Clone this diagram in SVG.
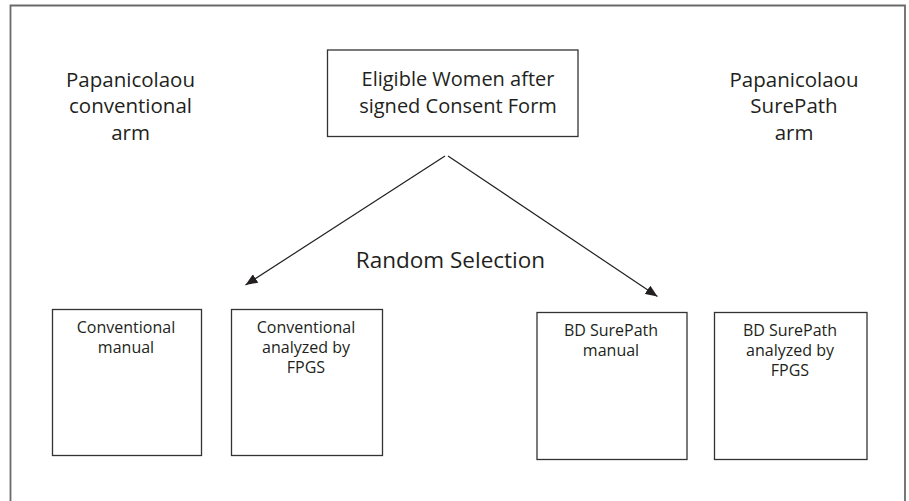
<svg xmlns="http://www.w3.org/2000/svg" width="909" height="501" viewBox="0 0 909 501">
<defs>
<style>
.frame{fill:none;stroke:#6a6a6a;stroke-width:1.8}
.box{fill:#fff;stroke:#333;stroke-width:1.3}
.t{font-family:"Open Sans","Liberation Sans",sans-serif;fill:#231f20;text-anchor:middle}
.big{font-size:20px}
.lbl{font-size:20.5px}
.sm{font-size:16px}
.edge{fill:none;stroke:#231f20;stroke-width:1.2}
</style>
<marker id="ah" viewBox="0 0 12 10" refX="12" refY="5" markerWidth="12" markerHeight="10" markerUnits="userSpaceOnUse" orient="auto">
<path d="M0,0 L12,5 L0,10 z" fill="#231f20"/>
</marker>
</defs>
<rect width="909" height="501" fill="#fff"/>
<path class="frame" d="M10.5,510 V5.5 H905 V510"/>

<g id="label-conventional-arm">
<text class="t lbl" x="130.5" y="86.5">Papanicolaou</text>
<text class="t lbl" x="130.5" y="113">conventional</text>
<text class="t lbl" x="130.5" y="139.5">arm</text>
</g>
<g id="label-surepath-arm">
<text class="t lbl" x="794" y="86.5">Papanicolaou</text>
<text class="t lbl" x="794" y="113">SurePath</text>
<text class="t lbl" x="794" y="139.5">arm</text>
</g>

<g id="eligible">
<rect class="box" x="327.5" y="50" width="250.5" height="86.5"/>
<text class="t big" x="458" y="85.5">Eligible Women after</text>
<text class="t big" x="458" y="112.5">signed Consent Form</text>
</g>

<g id="connectors">
<line class="edge" x1="445" y1="156" x2="245.5" y2="285" marker-end="url(#ah)"/>
<line class="edge" x1="448" y1="156" x2="657.5" y2="296.5" marker-end="url(#ah)"/>
<text class="t" x="450.5" y="268" style="font-size:22.5px">Random Selection</text>
</g>

<g id="conv-manual">
<rect class="box" x="52.5" y="309.5" width="149" height="146"/>
<text class="t sm" x="126" y="333">Conventional</text>
<text class="t sm" x="126" y="353">manual</text>
</g>
<g id="conv-fpgs">
<rect class="box" x="231.5" y="309.5" width="151" height="146"/>
<text class="t sm" x="306" y="333">Conventional</text>
<text class="t sm" x="306" y="353">analyzed by</text>
<text class="t sm" x="306" y="373">FPGS</text>
</g>
<g id="bd-manual">
<rect class="box" x="537" y="312.5" width="150" height="147"/>
<text class="t sm" x="611" y="336">BD SurePath</text>
<text class="t sm" x="611" y="356">manual</text>
</g>
<g id="bd-fpgs">
<rect class="box" x="714.5" y="312.5" width="152.5" height="147"/>
<text class="t sm" x="790" y="336">BD SurePath</text>
<text class="t sm" x="790" y="356">analyzed by</text>
<text class="t sm" x="790" y="376">FPGS</text>
</g>
</svg>
